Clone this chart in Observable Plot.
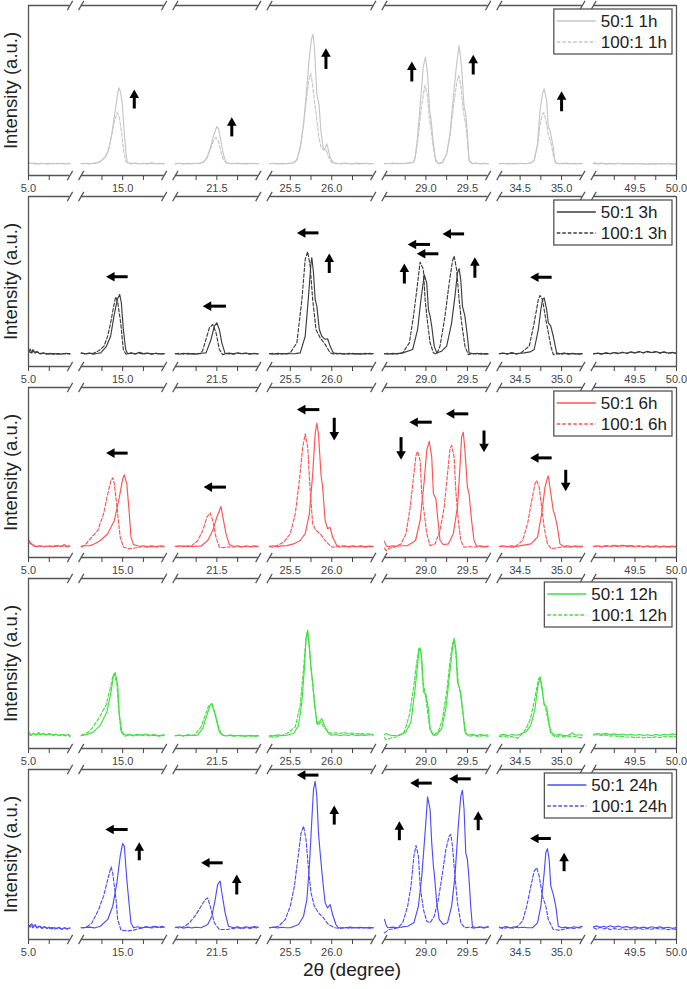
<!DOCTYPE html>
<html><head><meta charset="utf-8">
<script src="https://cdn.jsdelivr.net/npm/d3@7"></script>
<script src="https://cdn.jsdelivr.net/npm/@observablehq/plot@0.6"></script>
<style>
body{margin:0;background:#fff;font-family:"Liberation Sans",Arial,sans-serif;}
#wrap{position:relative;width:687px;height:989px;}
#wrap svg{position:absolute;left:0;overflow:visible;background:transparent;}
#xlabel{position:absolute;left:28px;width:648px;top:955px;text-align:center;font-size:19px;line-height:30px;color:#222;}
</style></head><body>
<div id="wrap"><div id="xlabel">2θ (degree)</div></div>
<script>
// ---- axis layout (degrees) ----
const segLo = [5.0, 14.5, 21.0, 25.25, 28.5, 34.25, 49.0];
const segHi = [5.5, 15.5, 22.0, 26.5, 29.75, 35.25, 50.0];
const majorTicks = [5.0, 15.0, 21.5, 25.5, 26.0, 29.0, 29.5, 34.5, 35.0, 49.5, 50.0];
const minorTicks = [5.25, 14.75, 15.25, 21.25, 21.75, 25.75, 26.25, 28.75, 29.25, 34.75, 49.25, 49.75];
const times = ["1h", "3h", "6h", "12h", "24h"];
const colors = ["#c6c6c6", "#3c3c3c", "#ff5252", "#3fe03f", "#4d4dff"];

// ---- 1h ----
const s1h = [[5.0,7.6],[5.04,7.0],[5.08,7.3],[5.12,6.8],[5.16,7.2],[5.2,6.9],[5.25,7.1],[5.3,6.8],[5.35,7.2],[5.4,7.0],[5.45,6.8],[5.5,7.1],
[14.5,7.0],[14.55,7.2],[14.6,6.9],[14.65,7.2],[14.69,7.4],[14.74,8.6],[14.79,10.8],[14.83,15],[14.87,24.7],[14.91,38.2],[14.94,48],[14.955,51.6],[14.975,49],[14.995,42],[15.02,24.7],[15.04,13],[15.055,7.8],[15.1,7.0],[15.15,7.3],[15.2,6.9],[15.25,7.2],[15.3,7.0],[15.35,7.4],[15.4,6.9],[15.45,7.1],[15.5,7.0],
[21.0,7.0],[21.05,7.2],[21.1,6.9],[21.15,7.1],[21.2,7.0],[21.25,7.2],[21.3,7.3],[21.34,8.0],[21.38,10.5],[21.42,16],[21.46,23.5],[21.5,28.8],[21.52,27.5],[21.55,20],[21.58,12],[21.61,8.0],[21.65,7.1],[21.7,7.0],[21.75,7.3],[21.8,6.9],[21.85,7.1],[21.9,7.0],[21.95,7.2],[22.0,6.9],
[25.25,7.0],[25.3,7.2],[25.35,6.9],[25.4,7.1],[25.45,7.0],[25.5,7.3],[25.54,7.5],[25.58,9],[25.62,16],[25.66,30],[25.70,52],[25.73,70],[25.755,80],[25.773,83],[25.79,76],[25.805,62],[25.82,48],[25.846,42],[25.87,26],[25.90,15],[25.92,16],[25.94,18.6],[25.96,15],[25.98,10.8],[26.02,7.4],[26.06,7.2],[26.1,6.8],[26.15,7.3],[26.2,7.0],[26.25,6.8],[26.3,7.3],[26.35,7.0],[26.4,7.2],[26.45,6.9],[26.5,7.0],
[28.5,7.1],[28.55,6.9],[28.6,7.3],[28.65,7.0],[28.7,7.2],[28.75,7.0],[28.8,7.4],[28.85,7.8],[28.87,11],[28.895,20.6],[28.935,44],[28.967,63.7],[28.994,69.6],[29.02,59.8],[29.045,38],[29.06,34],[29.086,20.6],[29.113,10],[29.15,7.0],[29.2,7.6],[29.25,12.7],[29.29,24.5],[29.33,46],[29.37,65.7],[29.40,76.5],[29.43,63.7],[29.46,40],[29.48,36.3],[29.50,24.5],[29.52,8.8],[29.56,7.0],[29.6,7.3],[29.65,6.9],[29.7,7.2],[29.75,7.0],
[34.25,7.0],[34.3,7.2],[34.35,6.9],[34.4,7.1],[34.45,7.0],[34.5,7.2],[34.55,7.0],[34.6,7.2],[34.64,7.6],[34.67,9],[34.71,18.6],[34.74,38],[34.77,48],[34.79,51],[34.82,44],[34.84,28.4],[34.86,26.5],[34.90,16.7],[34.92,8],[34.95,7.1],[35.0,7.0],[35.05,7.3],[35.1,6.9],[35.15,7.1],[35.2,7.0],[35.25,7.2],
[49.0,7.4],[49.05,7.0],[49.1,7.3],[49.15,6.9],[49.2,7.1],[49.25,6.8],[49.3,7.2],[49.35,6.9],[49.4,7.0],[49.45,6.8],[49.5,7.1],[49.55,6.9],[49.6,7.0],[49.65,6.7],[49.7,7.0],[49.75,6.8],[49.8,7.0],[49.85,6.9],[49.9,7.1],[49.95,6.8],[50.0,7.0]];
const d1h = [[5.0,7.2],[5.05,7.0],[5.1,6.8],[5.15,7.1],[5.2,7.0],[5.25,6.8],[5.3,7.1],[5.35,6.9],[5.4,7.1],[5.45,6.9],[5.5,7.0],
[14.5,6.9],[14.55,7.1],[14.6,6.8],[14.65,7.1],[14.69,7.2],[14.74,8.5],[14.79,11],[14.83,15],[14.86,22],[14.90,32],[14.935,37],[14.96,34],[14.985,26],[15.01,15],[15.04,8],[15.07,7],[15.1,6.9],[15.15,7.1],[15.2,6.9],[15.25,7.0],[15.3,6.8],[15.35,7.1],[15.4,6.9],[15.45,7.0],[15.5,6.9],
[21.0,6.9],[21.05,7.1],[21.1,6.8],[21.15,7.0],[21.2,6.9],[21.25,7.1],[21.3,7.0],[21.34,7.8],[21.38,10],[21.42,15],[21.46,20.5],[21.49,22.5],[21.52,20],[21.55,14],[21.58,9],[21.62,7.2],[21.66,6.9],[21.7,7.1],[21.75,6.9],[21.8,7.0],[21.85,6.8],[21.9,7.1],[21.95,6.9],[22.0,7.0],
[25.25,6.9],[25.3,7.1],[25.35,6.8],[25.4,7.0],[25.45,6.9],[25.5,7.1],[25.54,7.5],[25.58,9.5],[25.62,17],[25.66,30],[25.70,47],[25.725,56],[25.745,60],[25.765,55],[25.79,44],[25.82,33],[25.846,22],[25.87,17],[25.90,15],[25.93,15.5],[25.96,11],[26.0,7.5],[26.05,7.0],[26.1,7.2],[26.15,6.9],[26.2,7.1],[26.25,6.9],[26.3,7.0],[26.35,6.8],[26.4,7.1],[26.45,6.9],[26.5,7.0],
[28.5,6.9],[28.55,7.1],[28.6,6.9],[28.65,7.1],[28.7,6.9],[28.75,7.1],[28.8,7.2],[28.85,7.8],[28.87,10],[28.9,20],[28.94,38],[28.97,48],[28.99,53],[29.015,48],[29.04,34],[29.06,28],[29.09,16],[29.12,8],[29.15,7.0],[29.2,7.8],[29.25,12.5],[29.29,23],[29.33,40],[29.37,54],[29.395,59],[29.42,53],[29.45,38],[29.48,30],[29.50,20],[29.52,8.5],[29.56,7.0],[29.6,7.1],[29.65,6.8],[29.7,7.0],[29.75,6.9],
[34.25,6.9],[34.3,7.1],[34.35,6.8],[34.4,7.0],[34.45,6.9],[34.5,7.1],[34.55,6.9],[34.6,7.1],[34.64,7.6],[34.67,9],[34.71,17],[34.74,30],[34.77,36],[34.785,37],[34.81,33],[34.84,24],[34.87,20],[34.90,12],[34.93,7.2],[34.97,6.9],[35.02,7.1],[35.07,6.8],[35.12,7.0],[35.18,6.9],[35.25,7.0],
[49.0,7.1],[49.05,6.8],[49.1,7.0],[49.15,6.7],[49.2,7.0],[49.25,6.9],[49.3,7.1],[49.35,6.8],[49.4,6.9],[49.45,6.7],[49.5,7.0],[49.55,6.8],[49.6,6.9],[49.65,6.6],[49.7,6.9],[49.75,6.7],[49.8,6.9],[49.85,6.8],[49.9,7.0],[49.95,6.7],[50.0,6.9]];

// ---- 3h ----
const s3h = [[5.0,8.5],[5.02,10.2],[5.04,8.0],[5.06,9.6],[5.08,7.8],[5.1,8.6],[5.14,7.4],[5.18,8.0],[5.22,7.2],[5.26,7.7],[5.3,7.3],[5.35,7.6],[5.4,7.2],[5.45,7.8],[5.5,7.4],
[14.5,8.0],[14.55,7.4],[14.6,7.9],[14.65,7.3],[14.7,7.8],[14.735,8],[14.8,11.5],[14.855,17.8],[14.895,29.6],[14.935,39.4],[14.964,42.4],[14.984,37.5],[15.008,21.8],[15.036,10],[15.06,7.5],[15.1,8.0],[15.15,7.4],[15.2,8.3],[15.25,7.6],[15.3,7.9],[15.35,7.3],[15.4,7.8],[15.45,7.4],[15.5,7.6],
[21.0,7.6],[21.05,7.2],[21.1,7.8],[21.15,7.4],[21.2,7.6],[21.25,7.3],[21.3,7.8],[21.37,8],[21.43,15.9],[21.47,23.7],[21.5,25.7],[21.53,21.8],[21.56,13.9],[21.6,7.6],[21.65,7.9],[21.7,7.4],[21.75,8.1],[21.8,7.6],[21.85,7.9],[21.9,7.3],[21.95,7.6],[22.0,7.4],
[25.25,7.6],[25.3,7.3],[25.35,7.7],[25.4,7.4],[25.45,7.6],[25.5,7.5],[25.56,7.6],[25.62,8],[25.68,17.8],[25.72,41.4],[25.75,61],[25.76,64],[25.78,55],[25.80,39.4],[25.82,35.5],[25.85,21.8],[25.88,17.8],[25.92,16],[25.95,16.3],[25.98,12],[26.02,8],[26.06,7.4],[26.1,7.8],[26.15,7.2],[26.2,7.7],[26.25,7.4],[26.3,7.6],[26.35,7.3],[26.4,7.7],[26.45,7.4],[26.5,7.6],
[28.5,7.6],[28.55,7.3],[28.6,7.7],[28.65,7.4],[28.72,8],[28.84,10],[28.90,21.8],[28.94,39.4],[28.98,54],[29.01,49],[29.03,33.5],[29.05,29.6],[29.07,23.7],[29.10,12],[29.13,8],[29.19,9],[29.25,12],[29.31,25.7],[29.35,41.4],[29.38,55],[29.40,57.6],[29.42,51],[29.44,35.5],[29.47,29.6],[29.50,17.8],[29.52,8],[29.57,7.5],[29.62,7.8],[29.67,7.3],[29.72,7.6],[29.75,7.4],
[34.25,7.6],[34.3,7.9],[34.35,7.3],[34.4,8.2],[34.45,7.5],[34.5,7.8],[34.55,8],[34.62,8.6],[34.67,10],[34.72,21.8],[34.75,33.5],[34.77,39.4],[34.79,40.4],[34.82,33.5],[34.84,25.7],[34.87,23.7],[34.90,17.8],[34.94,8],[34.98,7.5],[35.03,7.9],[35.08,7.3],[35.13,7.7],[35.18,7.4],[35.25,7.6],
[49.0,7.5],[49.05,7.9],[49.1,7.4],[49.15,8.0],[49.2,7.6],[49.25,8.2],[49.3,7.7],[49.35,8.4],[49.4,7.8],[49.45,8.6],[49.5,8.0],[49.55,8.8],[49.6,8.1],[49.65,8.9],[49.7,8.2],[49.75,8.8],[49.8,8.0],[49.85,8.6],[49.9,7.9],[49.95,8.3],[50.0,7.8]];
const d3h = [[5.0,9.0],[5.03,8.0],[5.05,9.8],[5.07,8.2],[5.1,8.8],[5.15,7.6],[5.2,7.9],[5.25,7.3],[5.3,7.6],[5.35,7.3],[5.4,7.7],[5.45,7.4],[5.5,7.5],
[14.5,7.8],[14.55,7.4],[14.6,7.7],[14.65,7.8],[14.72,9.5],[14.775,12],[14.82,18],[14.855,25.7],[14.89,35],[14.916,41],[14.94,38],[14.976,25.7],[15.008,10],[15.04,7.2],[15.1,7.8],[15.15,7.4],[15.2,7.9],[15.25,7.3],[15.3,7.8],[15.35,7.4],[15.4,7.7],[15.45,7.3],[15.5,7.5],
[21.0,7.5],[21.05,7.8],[21.1,7.3],[21.15,7.7],[21.2,7.4],[21.25,7.6],[21.3,7.5],[21.33,9.5],[21.36,14.5],[21.41,22.7],[21.45,24.7],[21.49,20],[21.53,10],[21.57,7],[21.62,7.6],[21.7,7.3],[21.75,7.8],[21.8,7.4],[21.85,7.7],[21.9,7.5],[21.95,7.8],[22.0,7.4],
[25.25,7.5],[25.3,7.8],[25.35,7.3],[25.4,7.6],[25.45,7.4],[25.5,8],[25.58,14],[25.64,39.4],[25.68,63],[25.71,67.5],[25.74,59],[25.77,39.4],[25.81,21.8],[25.86,16.9],[25.92,13],[25.98,8],[26.02,7.4],[26.06,7.8],[26.1,7.3],[26.15,7.6],[26.2,7.4],[26.25,7.7],[26.3,7.3],[26.35,7.6],[26.4,7.4],[26.45,7.7],[26.5,7.5],
[28.5,7.5],[28.55,7.8],[28.6,7.3],[28.65,7.6],[28.72,8],[28.80,13.9],[28.85,29.6],[28.90,49],[28.93,61.4],[28.97,57],[28.99,39.4],[29.02,25.7],[29.05,14],[29.09,8],[29.13,7.3],[29.17,12],[29.23,29.6],[29.28,49],[29.32,62],[29.34,65],[29.37,57],[29.40,39.4],[29.43,25.7],[29.47,12],[29.51,7],[29.56,7.6],[29.62,7.3],[29.67,7.7],[29.72,7.4],[29.75,7.5],
[34.25,7.5],[34.3,7.8],[34.35,7.4],[34.4,7.9],[34.45,7.3],[34.51,8],[34.61,12],[34.67,25.7],[34.72,39.4],[34.74,41.8],[34.77,39.4],[34.81,27.6],[34.84,20],[34.87,12],[34.90,7],[34.95,7.6],[35.0,7.3],[35.05,7.8],[35.1,7.4],[35.15,7.6],[35.2,7.3],[35.25,7.5],
[49.0,7.4],[49.05,7.7],[49.1,7.3],[49.15,7.9],[49.2,7.5],[49.25,8.1],[49.3,7.6],[49.35,8.3],[49.4,7.7],[49.45,8.4],[49.5,7.9],[49.55,8.6],[49.6,8.0],[49.65,8.7],[49.7,8.1],[49.75,8.6],[49.8,7.9],[49.85,8.4],[49.9,7.8],[49.95,8.1],[50.0,7.7]];

// ---- 6h ----
const s6h = [[5.0,10.5],[5.02,9.0],[5.04,7.8],[5.07,7.0],[5.1,6.4],[5.15,6.9],[5.2,6.3],[5.25,6.8],[5.3,6.4],[5.35,7.0],[5.4,6.5],[5.43,7.6],[5.46,6.6],[5.5,6.8],
[14.5,6.6],[14.55,6.9],[14.61,7],[14.67,8.2],[14.73,10],[14.82,14],[14.90,21.8],[14.96,35.5],[15.0,46.3],[15.02,48.6],[15.05,43.3],[15.08,25.7],[15.10,12],[15.13,7.6],[15.2,6.6],[15.25,6.9],[15.3,6.4],[15.35,6.8],[15.4,6.5],[15.45,6.9],[15.5,6.6],
[21.0,6.6],[21.05,6.9],[21.1,6.4],[21.15,6.8],[21.2,6.5],[21.25,6.7],[21.31,6.6],[21.39,10],[21.45,15.9],[21.5,23.7],[21.55,30],[21.58,21.8],[21.61,14],[21.65,7.6],[21.7,6.6],[21.75,6.9],[21.8,6.3],[21.85,6.8],[21.9,6.5],[21.95,6.8],[22.0,6.6],
[25.25,6.6],[25.3,6.9],[25.35,6.4],[25.4,6.8],[25.46,7],[25.54,8],[25.62,10],[25.68,14],[25.73,25.7],[25.77,49],[25.80,72.7],[25.82,79],[25.84,72.7],[25.87,49],[25.89,41.4],[25.92,21.8],[25.95,16.9],[25.98,17.8],[26.01,12],[26.06,7],[26.1,6.6],[26.15,6.9],[26.2,6.4],[26.25,6.8],[26.3,6.5],[26.35,6.8],[26.4,6.4],[26.45,6.7],[26.5,6.6],
[28.5,9.5],[28.52,7],[28.55,6.4],[28.6,6.8],[28.66,6.6],[28.72,6.9],[28.78,7],[28.875,10],[28.93,21.8],[28.98,45.3],[29.01,63],[29.04,68.4],[29.07,59],[29.09,37.5],[29.12,34.5],[29.145,21.8],[29.17,10],[29.21,7.6],[29.27,8],[29.33,14],[29.38,29.6],[29.41,53],[29.43,70.8],[29.45,73.7],[29.47,63],[29.50,41.4],[29.52,37.5],[29.55,21.8],[29.58,10],[29.61,6.6],[29.65,6.9],[29.7,6.4],[29.75,6.7],
[34.25,6.6],[34.3,6.9],[34.35,6.5],[34.4,6.8],[34.45,6.4],[34.51,7],[34.63,8],[34.71,12],[34.76,25.7],[34.80,41.4],[34.83,47],[34.84,48],[34.865,39.4],[34.90,27.6],[34.92,24.7],[34.95,17.8],[34.98,8],[35.02,6.6],[35.07,6.9],[35.12,6.4],[35.17,6.8],[35.21,6.5],[35.25,6.7],
[49.0,6.6],[49.05,6.9],[49.1,6.5],[49.15,7.0],[49.2,6.6],[49.25,7.1],[49.3,6.7],[49.35,7.2],[49.4,6.8],[49.45,7.0],[49.5,6.6],[49.55,6.9],[49.6,6.5],[49.65,6.8],[49.7,6.4],[49.75,6.8],[49.8,6.5],[49.85,6.7],[49.9,6.4],[49.95,6.7],[50.0,6.5]];
const d6h = [[5.0,9.0],[5.02,8.2],[5.05,7.2],[5.08,6.5],[5.12,6.9],[5.17,6.3],[5.22,6.8],[5.27,6.4],[5.32,6.9],[5.37,6.5],[5.42,6.8],[5.46,6.4],[5.5,6.7],
[14.5,6.2],[14.55,7.5],[14.59,10],[14.70,15.9],[14.77,25.7],[14.82,37.5],[14.86,45.3],[14.88,46.9],[14.90,43.4],[14.94,25.7],[14.97,12],[15.01,6],[15.08,5.1],[15.15,5.6],[15.2,6],[15.25,6.4],[15.3,6.0],[15.35,6.5],[15.4,6.1],[15.45,6.6],[15.5,6.3],
[21.0,6.6],[21.05,6.3],[21.1,6.8],[21.15,6.5],[21.19,6.6],[21.27,10],[21.33,15.9],[21.38,23.7],[21.42,26.3],[21.45,21.8],[21.49,12],[21.53,6],[21.58,5.8],[21.65,6.3],[21.7,6.0],[21.75,6.5],[21.8,6.1],[21.85,6.6],[21.9,6.2],[21.95,6.5],[22.0,6.3],
[25.25,6.4],[25.30,6],[25.36,7.5],[25.42,9],[25.5,14],[25.56,25.7],[25.61,45.3],[25.65,65],[25.68,72.7],[25.71,65],[25.74,39.4],[25.77,19.8],[25.81,15.9],[25.86,14],[25.92,10],[25.98,7],[26.01,6],[26.06,6.4],[26.1,6.0],[26.15,6.5],[26.2,6.1],[26.25,6.6],[26.3,6.2],[26.35,6.5],[26.4,6.1],[26.45,6.4],[26.5,6.2],
[28.5,5.5],[28.52,4],[28.56,5.5],[28.62,6],[28.70,8],[28.76,14],[28.81,29.6],[28.85,47.2],[28.88,60],[28.90,62.5],[28.93,57],[28.95,37.5],[28.98,25.7],[29.01,14],[29.05,7],[29.11,8],[29.17,15.9],[29.22,29.6],[29.26,49],[29.29,64],[29.31,65.9],[29.34,59],[29.36,39.4],[29.39,21.8],[29.42,10],[29.46,6],[29.52,6.4],[29.58,6],[29.64,6.5],[29.7,6.1],[29.75,6.4],
[34.25,6.3],[34.3,6.6],[34.35,6.2],[34.43,6],[34.53,10],[34.59,19.8],[34.64,33.5],[34.68,43.4],[34.70,45.3],[34.73,41.4],[34.76,29.6],[34.79,17.8],[34.83,8],[34.88,5.1],[34.93,5.6],[34.98,6],[35.05,6.4],[35.1,6.0],[35.15,6.5],[35.2,6.1],[35.25,6.4],
[49.0,6.3],[49.05,6.7],[49.1,6.2],[49.15,6.8],[49.2,6.3],[49.25,6.9],[49.3,6.4],[49.35,6.9],[49.4,6.3],[49.45,6.7],[49.5,6.2],[49.55,6.6],[49.6,6.1],[49.65,6.5],[49.7,6.0],[49.75,6.4],[49.8,6.1],[49.85,6.5],[49.9,6.0],[49.95,6.4],[50.0,6.1]];

// ---- 12h ----
const s12h = [[5.0,8.4],[5.03,7.6],[5.06,8.9],[5.09,8.0],[5.12,9.5],[5.15,8.3],[5.18,9.0],[5.21,8.1],[5.25,8.8],[5.29,7.9],[5.33,8.5],[5.37,7.7],[5.41,8.3],[5.45,7.8],[5.48,8.2],[5.5,7.6],
[14.5,7.6],[14.53,7.8],[14.59,8.6],[14.65,9.8],[14.73,13.7],[14.81,21.6],[14.86,33.3],[14.89,43.1],[14.91,44.7],[14.94,37.3],[14.96,19.6],[14.99,9.8],[15.03,7.8],[15.08,8.3],[15.13,7.7],[15.18,8.4],[15.23,7.9],[15.28,8.5],[15.33,7.8],[15.38,8.2],[15.43,7.6],[15.5,8.0],
[21.0,7.6],[21.05,7.9],[21.1,7.5],[21.15,8.0],[21.2,7.7],[21.27,7.8],[21.33,11.8],[21.38,19.6],[21.42,25.5],[21.44,26.5],[21.47,21.6],[21.5,15.7],[21.53,9.8],[21.57,7.8],[21.62,7.4],[21.67,7.9],[21.72,7.5],[21.78,7.8],[21.84,7.3],[21.9,7.7],[21.95,7.4],[22.0,7.6],
[25.25,7.8],[25.3,7.4],[25.35,8.0],[25.4,7.6],[25.46,7.8],[25.54,8.8],[25.60,13.7],[25.64,27.5],[25.67,47],[25.69,64.7],[25.71,69.6],[25.73,60.8],[25.75,47],[25.77,39.2],[25.79,27.5],[25.82,14.7],[25.85,15.7],[25.88,17.6],[25.91,13.7],[25.96,8.8],[26.0,7.8],[26.05,8.2],[26.1,7.6],[26.15,8.1],[26.2,7.7],[26.25,8.2],[26.3,7.6],[26.35,8.0],[26.4,7.7],[26.45,8.1],[26.5,7.8],
[28.5,8.2],[28.52,8.8],[28.58,7.6],[28.66,7.8],[28.71,8.4],[28.76,9.8],[28.82,15.7],[28.86,31.4],[28.90,49],[28.915,57.8],[28.93,59.2],[28.95,52.9],[28.97,33.3],[29.0,31.8],[29.03,23.5],[29.05,11.8],[29.09,7.8],[29.13,7.8],[29.19,11.8],[29.24,23.5],[29.28,41.2],[29.32,58.8],[29.34,65],[29.36,58.8],[29.38,39.2],[29.41,34.3],[29.44,23.5],[29.47,9.8],[29.51,7.8],[29.56,8.3],[29.61,7.6],[29.66,8.2],[29.71,7.7],[29.75,8.0],
[34.25,7.8],[34.3,8.3],[34.35,7.6],[34.4,8.2],[34.47,7.8],[34.57,9.8],[34.63,13.7],[34.68,23.5],[34.71,35.3],[34.74,42.2],[34.76,37.3],[34.79,25.5],[34.82,24.5],[34.84,17.6],[34.87,9.8],[34.92,7.8],[34.97,8.2],[35.03,7.6],[35.08,7.8],[35.11,8.6],[35.13,9.2],[35.15,8.4],[35.18,7.8],[35.22,8.1],[35.25,7.7],
[49.0,8.4],[49.05,8.8],[49.1,8.3],[49.15,8.9],[49.2,8.2],[49.25,8.6],[49.3,8.0],[49.35,8.5],[49.4,7.9],[49.45,8.3],[49.5,7.8],[49.55,8.2],[49.6,7.7],[49.65,8.1],[49.7,7.6],[49.75,8.2],[49.8,7.7],[49.85,8.4],[49.9,7.9],[49.95,8.6],[50.0,8.1]];
const d12h = [[5.0,9.6],[5.03,8.3],[5.06,9.0],[5.09,7.9],[5.12,8.6],[5.15,8.0],[5.18,8.8],[5.21,7.8],[5.25,8.4],[5.29,7.6],[5.33,8.2],[5.37,7.5],[5.41,8.0],[5.45,7.4],[5.48,7.9],[5.5,6.8],
[14.5,7.9],[14.53,8.2],[14.58,9.5],[14.63,11.8],[14.71,17.6],[14.80,25.5],[14.85,35.3],[14.88,42.2],[14.90,44],[14.93,38.2],[14.955,21.6],[14.98,9.8],[15.03,7.2],[15.08,7.9],[15.13,7.4],[15.18,8.0],[15.23,7.5],[15.28,8.1],[15.33,7.4],[15.38,7.9],[15.43,7.3],[15.5,7.7],
[21.0,7.5],[21.05,7.8],[21.1,7.3],[21.15,7.7],[21.23,7.8],[21.31,12.7],[21.36,19.6],[21.40,25],[21.44,25.9],[21.48,20.6],[21.51,14.7],[21.55,8.5],[21.6,7.5],[21.65,7.8],[21.7,7.2],[21.76,7.6],[21.82,7.1],[21.88,7.5],[21.94,7.2],[22.0,7.4],
[25.25,7.0],[25.3,6.6],[25.34,6.9],[25.4,7.8],[25.46,8.8],[25.56,12.7],[25.62,25.5],[25.66,47],[25.69,65],[25.705,68.6],[25.73,58.8],[25.755,45],[25.77,37.3],[25.80,23.5],[25.83,13.7],[25.87,15.7],[25.90,12.7],[25.96,9.8],[26.0,8.8],[26.05,9.2],[26.1,8.9],[26.15,9.4],[26.2,8.8],[26.25,9.1],[26.3,8.6],[26.35,8.9],[26.4,8.4],[26.45,8.7],[26.5,8.3],
[28.5,6.5],[28.52,5],[28.58,6.2],[28.66,7],[28.74,9.8],[28.80,19.6],[28.85,35.3],[28.89,51],[28.915,58.8],[28.94,56.9],[28.96,41.2],[28.99,32.4],[29.02,21.6],[29.05,10.8],[29.09,7.8],[29.15,9.8],[29.20,17.6],[29.25,33.3],[29.29,51],[29.32,61.8],[29.34,64],[29.36,56.9],[29.39,38.2],[29.42,32.4],[29.45,19.6],[29.48,8.8],[29.53,7.2],[29.58,7.8],[29.63,7.0],[29.68,7.6],[29.75,7.2],
[34.25,7.0],[34.3,7.4],[34.35,6.6],[34.4,7.0],[34.47,6.0],[34.55,9.8],[34.62,16.7],[34.67,27.5],[34.71,38.2],[34.73,41.6],[34.755,38.2],[34.79,26.5],[34.81,23.5],[34.84,15.7],[34.87,8.8],[34.92,7],[34.98,7.4],[35.04,6.8],[35.1,7.3],[35.14,7.2],[35.2,6.6],[35.25,6.2],
[49.0,7.8],[49.05,8.3],[49.1,7.6],[49.15,8.0],[49.2,7.3],[49.25,7.6],[49.3,6.9],[49.35,7.2],[49.4,6.6],[49.45,6.9],[49.5,6.3],[49.55,6.7],[49.6,6.2],[49.65,6.6],[49.7,6.4],[49.75,6.8],[49.8,6.5],[49.85,7.0],[49.9,6.7],[49.95,7.2],[50.0,6.9]];

// ---- 24h ----
const s24h = [[5.0,8.5],[5.02,7.2],[5.04,9.2],[5.06,7.5],[5.08,8.8],[5.1,6.8],[5.13,7.9],[5.16,6.5],[5.19,7.6],[5.22,6.4],[5.25,7.3],[5.28,6.2],[5.31,7.0],[5.34,6.3],[5.37,7.2],[5.4,6.1],[5.43,6.9],[5.46,6.4],[5.5,6.8],
[14.5,6.9],[14.53,6.9],[14.6,7.3],[14.66,6.8],[14.73,7.8],[14.82,11.8],[14.88,19.6],[14.93,33.3],[14.97,49],[15.0,56.5],[15.02,54.9],[15.05,35.3],[15.08,19.6],[15.10,9.8],[15.13,6.9],[15.18,7.5],[15.23,6.8],[15.28,7.6],[15.33,7.0],[15.38,7.7],[15.43,7.1],[15.47,7.8],[15.5,7.2],
[21.0,7.0],[21.05,7.5],[21.1,6.7],[21.15,7.3],[21.2,6.8],[21.25,7.2],[21.31,6.9],[21.39,8.8],[21.44,13.7],[21.48,23.5],[21.51,32.4],[21.54,34.3],[21.56,27.5],[21.60,15.7],[21.64,7.8],[21.7,6.9],[21.75,7.4],[21.8,6.8],[21.85,7.5],[21.9,7.0],[21.95,7.6],[22.0,7.1],
[25.25,6.9],[25.3,7.3],[25.35,6.8],[25.4,7.2],[25.45,6.9],[25.5,6.9],[25.60,8.8],[25.66,13.7],[25.70,23.5],[25.73,43.1],[25.76,70.6],[25.78,88.2],[25.80,93.1],[25.82,84.3],[25.84,62.7],[25.86,51],[25.89,35.3],[25.92,21.6],[25.95,18.6],[25.98,20.6],[26.01,14.7],[26.05,8.8],[26.08,6.9],[26.16,6.9],[26.22,7.3],[26.28,6.8],[26.34,7.2],[26.4,6.8],[26.46,7.1],[26.5,6.9],
[28.5,11.8],[28.52,8.5],[28.54,6.9],[28.6,7.3],[28.66,6.9],[28.72,7.4],[28.78,7.8],[28.855,9.8],[28.91,19.6],[28.95,37.3],[28.99,62.7],[29.02,83.9],[29.05,76.5],[29.07,56.9],[29.09,43.1],[29.10,39.2],[29.13,21.6],[29.16,11.8],[29.21,8.8],[29.26,9.8],[29.31,19.6],[29.35,37.3],[29.39,66.7],[29.42,84.3],[29.44,87.8],[29.46,76.5],[29.48,51],[29.50,47],[29.52,35.3],[29.54,19.6],[29.56,7.8],[29.60,6.9],[29.65,7.4],[29.7,7.0],[29.75,7.6],
[34.25,7.3],[34.28,6.9],[34.33,7.6],[34.38,6.8],[34.43,7.4],[34.48,6.9],[34.53,7.2],[34.59,6.9],[34.65,6.9],[34.71,9.8],[34.75,19.6],[34.79,39.2],[34.81,51],[34.83,53.4],[34.85,47],[34.87,31.4],[34.90,26.5],[34.93,19.6],[34.96,7.8],[35.0,6.9],[35.05,7.3],[35.1,6.8],[35.15,7.5],[35.2,7.0],[35.25,7.8],
[49.0,7.4],[49.04,8.0],[49.08,7.0],[49.12,7.8],[49.16,7.2],[49.2,8.1],[49.25,7.3],[49.3,7.9],[49.35,7.1],[49.4,7.6],[49.45,6.9],[49.5,7.4],[49.55,6.8],[49.6,7.3],[49.65,6.7],[49.7,7.5],[49.75,6.9],[49.8,7.4],[49.85,6.8],[49.9,7.2],[49.95,6.6],[50.0,7.0]];
const d24h = [[5.0,7.6],[5.03,8.9],[5.05,6.9],[5.08,8.2],[5.11,7.0],[5.14,7.8],[5.17,6.6],[5.2,7.4],[5.24,6.3],[5.28,7.1],[5.32,6.2],[5.36,7.0],[5.4,6.0],[5.44,6.8],[5.47,6.1],[5.5,6.7],
[14.5,6.9],[14.53,6.9],[14.58,7.8],[14.63,9.8],[14.71,17.6],[14.77,25.5],[14.82,35.3],[14.86,42.7],[14.88,39.2],[14.92,23.5],[14.94,11.8],[14.98,5.5],[15.06,5],[15.13,5.5],[15.2,6.4],[15.24,6.9],[15.3,7.3],[15.35,6.8],[15.4,7.4],[15.45,7.0],[15.5,7.3],
[21.0,7.2],[21.05,6.8],[21.1,7.4],[21.17,9.8],[21.25,14.7],[21.31,19.6],[21.36,23.5],[21.39,24.5],[21.42,19.6],[21.47,9.8],[21.53,5.9],[21.62,5.9],[21.7,6.5],[21.75,6.9],[21.8,6.4],[21.85,7.0],[21.9,6.5],[21.95,7.1],[22.0,6.6],
[25.25,6.9],[25.3,7.2],[25.36,7.8],[25.44,11.8],[25.5,19.6],[25.55,31.4],[25.59,47],[25.63,62.7],[25.66,66.7],[25.69,58.8],[25.72,41.2],[25.75,27.5],[25.79,19.6],[25.84,15.7],[25.90,12.7],[25.96,8.8],[26.04,6.9],[26.1,6.5],[26.16,7.0],[26.22,6.6],[26.28,7.1],[26.34,6.7],[26.4,7.0],[26.46,6.6],[26.5,6.9],
[28.5,3.9],[28.56,5.9],[28.62,6.4],[28.66,6.9],[28.72,9.8],[28.78,19.6],[28.82,31.4],[28.855,49],[28.88,55.3],[28.91,49],[28.93,31.4],[28.97,17.6],[29.01,10.8],[29.05,9.8],[29.10,13.7],[29.15,23.5],[29.20,39.2],[29.24,52.9],[29.28,60.8],[29.30,61.8],[29.32,54.9],[29.35,37.3],[29.38,21.6],[29.42,9.8],[29.47,6.9],[29.53,7.3],[29.58,6.7],[29.64,7.2],[29.7,6.8],[29.75,7.1],
[34.25,6.9],[34.3,6.4],[34.36,7.2],[34.42,6.6],[34.47,7.8],[34.53,10.8],[34.58,19.6],[34.63,31.4],[34.67,40.2],[34.70,42.2],[34.73,37.3],[34.77,25.5],[34.81,19.6],[34.84,11.8],[34.90,5.9],[34.98,5.5],[35.04,6.2],[35.1,6.9],[35.15,6.5],[35.2,7.0],[35.25,6.8],
[49.0,6.9],[49.04,6.0],[49.08,7.4],[49.12,6.2],[49.16,6.8],[49.2,5.8],[49.25,6.5],[49.3,5.9],[49.35,6.4],[49.4,5.7],[49.45,6.3],[49.5,6.0],[49.55,6.6],[49.6,5.9],[49.65,6.5],[49.7,6.0],[49.75,6.7],[49.8,6.1],[49.85,6.4],[49.9,5.8],[49.95,6.3],[50.0,5.9]];

// ---- arrows: [tailDeg, tailY, headDeg, headY] ----
const a1h = [[15.14,39.4,15.14,50.6],[21.68,23,21.68,34.3],[25.93,62.7,25.93,74.9],[28.83,55.3,28.83,67],[29.57,59.4,29.57,71],[35.0,37.8,35.0,49.6]];
const a3h = [[15.06,52.8,14.80,52.8],[21.61,35.5,21.33,35.5],[25.84,78.6,25.58,78.6],[29.05,71.8,28.78,71.8],[29.15,66.3,28.89,66.3],[29.46,78,29.20,78],[34.88,52.5,34.62,52.5],
[25.97,55,25.97,66.5],[28.74,48.8,28.74,60.6],[29.59,52.2,29.59,64.3]];
const a6h = [[15.06,61.4,14.80,61.4],[21.61,41.4,21.34,41.4],[25.85,87,25.58,87],[29.07,79.6,28.80,79.6],[29.51,84.5,29.24,84.5],[34.88,58.6,34.62,58.6],
[26.03,82.2,26.03,68.8],[28.70,70.8,28.70,57.5],[29.70,74.7,29.70,61.9],[35.05,51.6,35.05,39]];
const a12h = [];
const a24h = [[15.06,64.7,14.79,64.7],[21.57,45.1,21.31,45.1],[25.84,96.7,25.58,96.7],[29.07,92,28.81,92],[29.54,94.5,29.28,94.5],[34.87,59.4,34.62,59.4],
[15.2,46.6,15.2,57.2],[21.74,26.5,21.74,38.2],[26.03,67.6,26.03,78.8],[28.68,58.4,28.68,69.6],[29.63,64.3,29.63,75.5],[35.03,40.2,35.03,51]];

const solids = [s1h, s3h, s6h, s12h, s24h];
const dashes = [d1h, d3h, d6h, d12h, d24h];
const arrowSets = [a1h, a3h, a6h, a12h, a24h];

// ---- broken-axis mapping ----
const GAP = 0.135;
const segStart = [];
let acc = 0;
for (let i = 0; i < segLo.length; i++) { segStart.push(acc); acc += segHi[i] - segLo[i] + GAP; }
const TOTAL = acc - GAP;
function segOf(t) { for (let i = 0; i < segLo.length; i++) if (t >= segLo[i] - 1e-6 && t <= segHi[i] + 1e-6) return i; return -1; }
function vx(t) { const i = segOf(t); return segStart[i] + (t - segLo[i]); }
const segIdx = d3.range(segLo.length);
const segEndV = i => segStart[i] + segHi[i] - segLo[i];
const edges = segIdx.slice(0, -1).map(segEndV).concat(segIdx.slice(1).map(i => segStart[i]));
const majorV = majorTicks.map(vx);
const minorV = minorTicks.map(vx);
const labelOf = v => majorTicks[majorV.indexOf(v)].toFixed(1);

const W = 687, H = 200, ML = 28, MR = 11, MT = 5, MB = 25, STEP = 191;
const FRAME = "#555";
const FONT = "'Liberation Sans', Arial, sans-serif";
const tipUp = {draw(c) { c.moveTo(0, 0); c.lineTo(-4.8, 8.5); c.lineTo(4.8, 8.5); c.closePath(); }};
const tipDown = {draw(c) { c.moveTo(0, 0); c.lineTo(-4.8, -8.5); c.lineTo(4.8, -8.5); c.closePath(); }};
const tipLeft = {draw(c) { c.moveTo(0, 0); c.lineTo(8.5, -4.8); c.lineTo(8.5, 4.8); c.closePath(); }};

const wrap = document.getElementById("wrap");

for (let k = 0; k < 5; k++) {
  const col = colors[k];
  const arr = arrowSets[k];
  const horiz = arr.filter(a => a[1] === a[3]);
  const ups = arr.filter(a => a[3] > a[1]);
  const downs = arr.filter(a => a[3] < a[1]);
  const lineOpts = {x: d => vx(d[0]), y: d => d[1], z: d => segOf(d[0]), stroke: col, strokeWidth: 1.15};
  const svg = Plot.plot({
    width: W, height: H, marginLeft: ML, marginRight: MR, marginTop: MT, marginBottom: MB,
    style: {fontFamily: FONT, background: "transparent", overflow: "visible"},
    x: {domain: [0, TOTAL]},
    y: {domain: [0, 100], axis: null},
    marks: [
      Plot.line(dashes[k], {...lineOpts, strokeDasharray: "3.5,2"}),
      Plot.line(solids[k], lineOpts),
      Plot.ruleY(segIdx, {y: 0, x1: i => segStart[i], x2: segEndV, stroke: FRAME, strokeWidth: 1.3}),
      Plot.ruleY(segIdx, {y: 100, x1: i => segStart[i], x2: segEndV, stroke: FRAME, strokeWidth: 1.3}),
      Plot.ruleX([0, TOTAL], {y1: 0, y2: 100, stroke: FRAME, strokeWidth: 1.3}),
      Plot.link(edges, {x1: e => e - 0.032, x2: e => e + 0.032, y1: -2.7, y2: 2.7, stroke: FRAME, strokeWidth: 1.2}),
      Plot.link(edges, {x1: e => e - 0.032, x2: e => e + 0.032, y1: 97.3, y2: 102.7, stroke: FRAME, strokeWidth: 1.2}),
      Plot.axisX(majorV, {tickSize: 5, tickPadding: 4, fontSize: 11, tickFormat: labelOf, label: null, color: "#444"}),
      Plot.axisX(minorV, {tickSize: 5, tickFormat: () => "", label: null, color: "#444"}),
      Plot.text(["Intensity (a.u.)"], {frameAnchor: "left", dx: -17, rotate: -90, fontSize: 18.5, fill: "#222", textAnchor: "middle", lineAnchor: "middle"}),
      Plot.link(horiz, {x1: a => vx(a[0]), x2: a => vx(a[2]) + 0.07, y1: a => a[1], y2: a => a[3], stroke: "black", strokeWidth: 3}),
      Plot.dot(horiz, {x: a => vx(a[2]), y: a => a[3], symbol: tipLeft, fill: "black", stroke: "none"}),
      Plot.link(ups, {x1: a => vx(a[0]), x2: a => vx(a[2]), y1: a => a[1], y2: a => a[3] - 3.5, stroke: "black", strokeWidth: 3}),
      Plot.dot(ups, {x: a => vx(a[2]), y: a => a[3], symbol: tipUp, fill: "black", stroke: "none"}),
      Plot.link(downs, {x1: a => vx(a[0]), x2: a => vx(a[2]), y1: a => a[1], y2: a => a[3] + 3.5, stroke: "black", strokeWidth: 3}),
      Plot.dot(downs, {x: a => vx(a[2]), y: a => a[3], symbol: tipDown, fill: "black", stroke: "none"})
    ]
  });
  svg.style.top = (k * STEP) + "px";
  wrap.appendChild(svg);

  // legend box (top-right inside frame)
  const g = d3.select(svg).append("g").attr("font-family", FONT).attr("font-size", 17).attr("text-anchor", "start");
  const labels = ["50:1 " + times[k], "100:1 " + times[k]];
  const right = 672, top = MT + 4, rowY = [top + 12, top + 33];
  const rect = g.append("rect").attr("y", top).attr("height", 45).attr("fill", "white").attr("stroke", FRAME).attr("stroke-width", 1.3);
  const texts = labels.map((t, i) => g.append("text").attr("y", rowY[i]).attr("dy", "0.35em").attr("text-anchor", "start").attr("fill", "#222").text(t));
  const tw = Math.max(...texts.map(t => t.node().getComputedTextLength()));
  const boxW = 47 + tw + 5, left = right - boxW;
  rect.attr("x", left).attr("width", boxW);
  texts.forEach(t => t.attr("x", left + 47));
  g.append("line").attr("x1", left + 3).attr("x2", left + 42).attr("y1", rowY[0]).attr("y2", rowY[0]).attr("stroke", col).attr("stroke-width", 1.3);
  g.append("line").attr("x1", left + 3).attr("x2", left + 42).attr("y1", rowY[1]).attr("y2", rowY[1]).attr("stroke", col).attr("stroke-width", 1.3).attr("stroke-dasharray", "3.5,2");
}
</script></body></html>
